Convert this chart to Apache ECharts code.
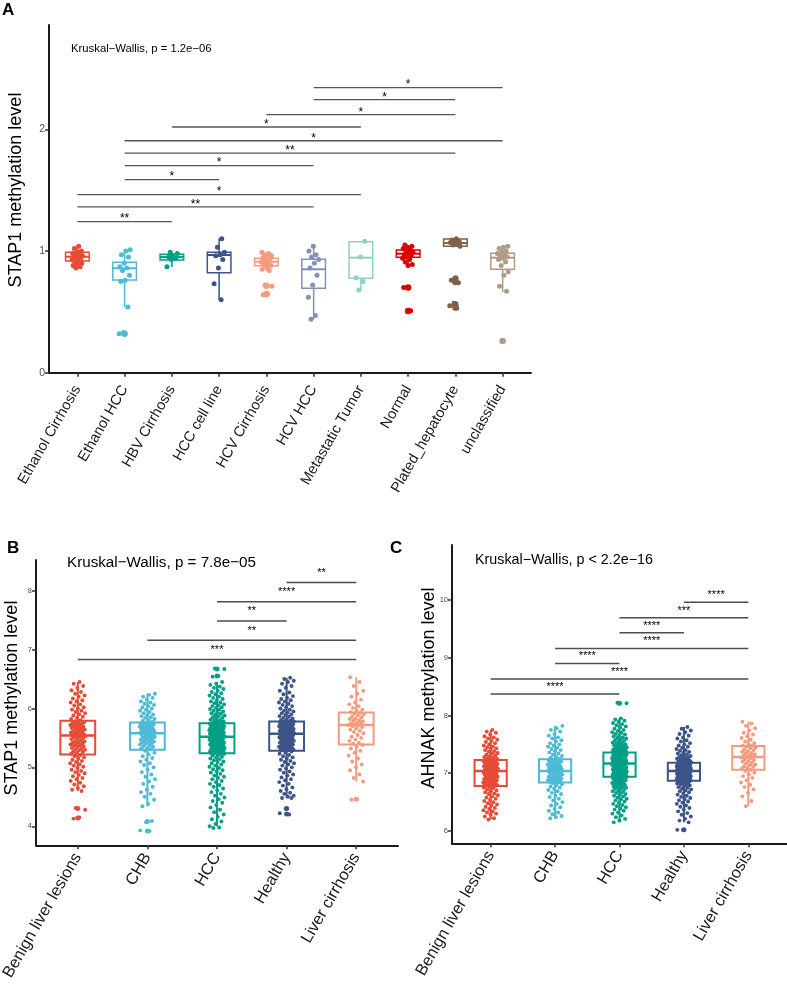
<!DOCTYPE html>
<html><head><meta charset="utf-8">
<script src="https://cdn.jsdelivr.net/npm/echarts@6/dist/echarts.min.js"></script>
<style>html,body{margin:0;padding:0;background:#fff}#c{width:787px;height:984px}</style>
</head><body><div id="c"></div><script>
// ---------- Panel A data ----------
const catsA = ['Ethanol Cirrhosis','Ethanol HCC','HBV Cirrhosis','HCC cell line','HCV Cirrhosis','HCV HCC','Metastatic Tumor','Normal','Plated_hepatocyte','unclassified'];
const colorsA = ['#E64B35','#4DBBD5','#00A087','#3C5488','#F39B7F','#8491B4','#91D1C2','#DC0000','#7E6148','#B09C85'];
// [lower whisker, Q1, median, Q3, upper whisker]
const boxA = [
  [0.86,0.918,0.953,0.99,1.04],
  [0.54,0.762,0.858,0.907,1.008],
  [0.868,0.926,0.95,0.973,0.99],
  [0.597,0.822,0.967,0.99,1.104],
  [0.836,0.879,0.912,0.94,0.99],
  [0.439,0.694,0.85,0.932,1.041],
  [0.674,0.776,0.945,1.077,1.08],
  [0.871,0.948,0.978,1.008,1.04],
  [1.04,1.04,1.065,1.099,1.1],
  [0.66,0.85,0.945,0.981,1.04]
];
const ptsA = [
  [1.04,1.02,1.0,0.99,0.98,0.97,0.96,0.96,0.95,0.95,0.94,0.94,0.93,0.92,0.91,0.9,0.89,0.88,0.87,0.86],
  [1.01,1.0,0.97,0.95,0.9,0.87,0.86,0.84,0.8,0.76,0.75,0.54,0.33,0.32],
  [0.99,0.98,0.96,0.95,0.94,0.93,0.87],
  [1.1,1.03,0.99,0.97,0.96,0.93,0.86,0.73,0.6],
  [0.99,0.98,0.97,0.96,0.95,0.94,0.93,0.92,0.91,0.9,0.89,0.88,0.87,0.85,0.84,0.72,0.71,0.65,0.64],
  [1.04,1.0,0.97,0.95,0.93,0.9,0.86,0.8,0.72,0.62,0.47,0.44],
  [1.08,0.95,0.78,0.75,0.68],
  [1.05,1.04,1.03,1.02,1.01,1.0,0.99,0.98,0.97,0.96,0.95,0.94,0.93,0.91,0.89,0.88,0.7,0.51],
  [1.1,1.09,1.08,1.08,1.07,1.06,1.05,1.04,0.78,0.76,0.74,0.57,0.55,0.53],
  [1.04,1.03,1.02,1.0,0.99,0.98,0.97,0.96,0.95,0.94,0.93,0.91,0.88,0.83,0.8,0.71,0.67,0.26]
];
const outA = [[],[0.32],[],[],[0.715,0.645],[],[],[0.70,0.507],[0.77,0.745,0.56,0.535],[0.26]];
// [group from, group to, bracket height, label]
const sigA = [
  [5,9,2.342,'*'],[5,8,2.243,'*'],[4,8,2.12,'*'],[2,6,2.019,'*'],[1,9,1.906,'*'],
  [1,8,1.805,'**'],[1,5,1.701,'*'],[1,3,1.586,'*'],[0,6,1.463,'*'],[0,5,1.362,'**'],[0,2,1.241,'**']
];
const yTicksA = [0,1,2];

// ---------- Panel B data (STAP1) ----------
const catsBC = ['Benign liver lesions','CHB','HCC','Healthy','Liver cirrhosis'];
const colorsBC = ['#E64B35','#4DBBD5','#00A087','#3C5488','#F39B7F'];
const boxB = [
  [4.6,5.22,5.54,5.79,6.45],
  [4.34,5.30,5.58,5.76,6.25],
  [4.0,5.24,5.52,5.75,6.45],
  [4.48,5.28,5.57,5.78,6.52],
  [4.76,5.39,5.72,5.93,6.53]
];
const ptsB_benign = [6.45,6.42,6.38,6.35,6.31,6.28,6.25,6.22,6.2,6.17,6.14,6.12,6.1,6.07,6.05,6.02,6.0,5.98,5.96,5.94,5.92,5.9,5.88,5.86,5.84,5.82,5.8,
  5.78,5.77,5.76,5.75,5.74,5.73,5.72,5.71,5.7,5.69,5.68,5.67,5.66,5.65,5.64,5.63,5.62,5.61,5.6,5.59,5.58,5.57,5.56,5.56,5.55,5.55,5.54,
  5.53,5.52,5.51,5.5,5.49,5.48,5.46,5.45,5.44,5.43,5.42,5.41,5.4,5.39,5.38,5.37,5.36,5.35,5.33,5.32,5.31,5.3,5.29,5.27,5.26,5.25,5.23,
  5.21,5.19,5.17,5.15,5.13,5.11,5.09,5.07,5.05,5.03,5.01,4.99,4.96,4.94,4.92,4.9,4.87,4.85,4.82,4.8,4.77,4.74,4.71,4.68,4.65,4.62,4.6,
  4.31,4.28,4.15,4.13];
const ptsB_chb = [6.25,6.23,6.2,6.18,6.15,6.12,6.1,6.08,6.06,6.04,6.02,6.0,5.98,5.96,5.94,5.92,5.9,5.88,5.87,5.85,5.84,5.82,5.8,5.79,5.77,
  5.76,5.75,5.74,5.74,5.73,5.72,5.71,5.7,5.7,5.69,5.68,5.67,5.66,5.66,5.65,5.64,5.63,5.62,5.62,5.61,5.6,5.6,5.59,5.59,5.58,
  5.57,5.56,5.55,5.54,5.53,5.52,5.51,5.5,5.49,5.48,5.47,5.46,5.45,5.44,5.43,5.42,5.41,5.4,5.39,5.37,5.36,5.35,5.33,5.32,5.31,
  5.28,5.25,5.22,5.19,5.16,5.13,5.1,5.07,5.04,5.0,4.96,4.92,4.88,4.84,4.8,4.76,4.72,4.67,4.62,4.58,4.55,4.5,4.45,4.38,4.34,
  4.09,4.07,3.93,3.92];
const ptsB_hcc = [6.68,6.67,6.55,6.54,6.45,6.42,6.4,6.37,6.35,6.33,6.3,6.28,6.26,6.24,6.22,6.2,6.18,6.16,6.14,6.12,6.1,6.09,6.07,6.05,6.04,6.02,6.01,5.99,5.98,5.96,5.95,5.93,5.92,5.91,5.89,5.88,5.87,5.85,5.84,5.83,5.81,5.8,5.79,5.78,5.76,
  5.75,5.75,5.74,5.74,5.73,5.73,5.72,5.72,5.71,5.71,5.7,5.7,5.69,5.69,5.68,5.68,5.67,5.67,5.66,5.66,5.65,5.65,5.64,5.64,5.63,5.63,5.62,5.62,5.61,5.61,5.6,5.6,5.59,5.59,5.58,5.58,5.57,5.57,5.56,5.56,5.55,5.55,5.54,5.54,5.53,5.53,5.53,5.52,5.52,5.52,
  5.51,5.51,5.5,5.5,5.49,5.49,5.48,5.48,5.47,5.47,5.46,5.45,5.45,5.44,5.43,5.43,5.42,5.41,5.41,5.4,5.39,5.39,5.38,5.37,5.37,5.36,5.35,5.35,5.34,5.33,5.33,5.32,5.31,5.31,5.3,5.3,5.29,5.29,5.28,5.28,5.27,5.27,5.26,5.26,5.25,5.25,5.25,5.24,5.24,5.24,
  5.23,5.21,5.2,5.18,5.17,5.15,5.14,5.12,5.1,5.09,5.07,5.05,5.03,5.01,4.99,4.97,4.95,4.93,4.91,4.89,4.86,4.84,4.82,4.8,4.77,4.75,4.72,4.7,4.67,4.64,4.61,4.58,4.55,4.52,4.49,4.46,4.43,4.4,4.36,4.32,4.28,4.24,4.2,4.16,4.12,4.08,4.04,4.0,3.98,3.97];
const ptsB_healthy = [6.52,6.5,6.47,6.45,6.42,6.38,6.35,6.3,6.27,6.24,6.21,6.18,6.16,6.14,6.12,6.1,6.08,6.06,6.04,6.02,6.0,5.98,5.96,5.95,5.93,5.92,5.9,5.89,5.87,5.86,5.84,5.83,5.81,5.8,5.79,
  5.78,5.78,5.77,5.77,5.76,5.76,5.75,5.75,5.74,5.73,5.73,5.72,5.71,5.71,5.7,5.69,5.69,5.68,5.67,5.67,5.66,5.65,5.65,5.64,5.63,5.63,5.62,5.62,5.61,5.61,5.6,5.6,5.59,5.59,5.58,5.58,5.58,5.57,5.57,5.57,
  5.56,5.56,5.55,5.55,5.54,5.53,5.53,5.52,5.51,5.51,5.5,5.49,5.48,5.48,5.47,5.46,5.45,5.45,5.44,5.43,5.42,5.42,5.41,5.4,5.39,5.39,5.38,5.37,5.36,5.35,5.35,5.34,5.33,5.32,5.32,5.31,5.3,5.3,5.29,5.29,
  5.27,5.25,5.23,5.21,5.19,5.17,5.15,5.13,5.11,5.09,5.07,5.05,5.03,5.0,4.98,4.96,4.93,4.91,4.88,4.86,4.83,4.8,4.78,4.75,4.72,4.69,4.66,4.63,4.6,4.57,4.55,4.52,4.5,4.48,4.48,
  4.3,4.22,4.2];
const ptsB_lc = [6.53,6.45,6.38,6.3,6.25,6.2,6.15,6.1,6.07,6.04,6.01,5.98,5.96,5.94,
  5.93,5.91,5.9,5.88,5.86,5.85,5.83,5.82,5.8,5.79,5.78,5.76,5.75,5.74,5.73,5.72,
  5.71,5.7,5.68,5.66,5.64,5.62,5.6,5.58,5.55,5.52,5.5,5.47,5.45,5.42,5.4,
  5.38,5.35,5.32,5.28,5.25,5.2,5.15,5.1,5.05,5.0,4.95,4.88,4.82,4.76,4.46,4.45];
const outB = [[4.3,4.14],[4.08,3.92],[6.67,6.55],[4.3,4.21],[4.46]];
const sigB = [[3,4,8.136,'**'],[2,4,7.81,'****'],[2,3,7.486,'**'],[1,4,7.157,'**'],[0,4,6.83,'***']];
const yTicksB = [4,5,6,7,8];

// ---------- Panel C data (AHNAK) ----------
const boxC = [
  [6.2,6.78,7.04,7.23,7.75],
  [6.22,6.84,7.04,7.24,7.82],
  [6.15,6.94,7.17,7.36,7.95],
  [6.15,6.87,7.04,7.18,7.8],
  [6.43,7.06,7.28,7.47,7.89]
];
const ptsC_benign = [7.75,7.72,7.7,7.67,7.64,7.62,7.6,7.58,7.56,7.54,7.52,7.5,7.48,7.46,7.45,7.43,7.42,7.4,7.38,7.37,7.35,7.34,7.32,7.31,7.3,7.28,7.27,7.26,7.25,7.24,
  7.23,7.22,7.22,7.21,7.2,7.2,7.19,7.18,7.18,7.17,7.16,7.16,7.15,7.14,7.14,7.13,7.12,7.12,7.11,7.1,7.1,7.09,7.09,7.08,7.08,7.07,7.07,7.06,7.06,7.05,7.05,7.05,7.04,7.04,7.04,
  7.03,7.02,7.01,7.0,6.99,6.99,6.98,6.97,6.96,6.95,6.94,6.94,6.93,6.92,6.91,6.9,6.89,6.89,6.88,6.87,6.86,6.85,6.84,6.84,6.83,6.82,6.82,6.81,6.8,6.8,6.79,6.79,6.78,6.78,6.78,
  6.77,6.75,6.74,6.72,6.7,6.69,6.67,6.65,6.64,6.62,6.6,6.58,6.56,6.54,6.52,6.5,6.48,6.46,6.44,6.42,6.4,6.38,6.36,6.34,6.32,6.3,6.28,6.25,6.22,6.2];
const ptsC_chb = [7.82,7.78,7.75,7.72,7.68,7.65,7.62,7.6,7.57,7.55,7.52,7.5,7.48,7.46,7.44,7.42,7.4,7.38,7.36,7.34,7.32,7.3,7.28,7.27,7.25,
  7.24,7.23,7.22,7.21,7.2,7.19,7.18,7.17,7.16,7.15,7.14,7.13,7.12,7.11,7.1,7.1,7.09,7.08,7.08,7.07,7.06,7.06,7.05,7.05,7.04,
  7.03,7.02,7.01,7.0,6.99,6.98,6.97,6.96,6.95,6.94,6.94,6.93,6.92,6.91,6.9,6.9,6.89,6.88,6.88,6.87,6.86,6.86,6.85,6.85,6.84,
  6.83,6.81,6.79,6.77,6.75,6.73,6.71,6.69,6.66,6.64,6.61,6.59,6.56,6.53,6.5,6.47,6.44,6.41,6.38,6.35,6.32,6.29,6.26,6.24,6.22];
const ptsC_hcc = [8.22,8.21,7.95,7.93,7.91,7.89,7.87,7.85,7.83,7.81,7.79,7.77,7.75,7.73,7.71,7.7,7.68,7.67,7.65,7.64,7.62,7.61,7.6,7.58,7.57,7.56,7.54,7.53,7.52,7.51,7.5,7.49,7.48,7.47,7.46,7.45,7.44,7.43,7.42,7.41,7.41,7.4,7.4,7.39,7.39,7.38,7.38,7.37,7.37,7.36,
  7.36,7.35,7.35,7.34,7.34,7.33,7.33,7.32,7.32,7.31,7.31,7.3,7.3,7.29,7.29,7.28,7.28,7.27,7.27,7.26,7.26,7.25,7.25,7.24,7.24,7.23,7.23,7.22,7.22,7.22,7.21,7.21,7.2,7.2,7.2,7.19,7.19,7.19,7.18,7.18,7.18,7.18,7.17,7.17,7.17,7.17,7.17,7.17,
  7.16,7.16,7.15,7.15,7.14,7.14,7.13,7.13,7.12,7.12,7.11,7.11,7.1,7.1,7.09,7.09,7.08,7.08,7.07,7.07,7.06,7.06,7.05,7.05,7.04,7.04,7.03,7.03,7.02,7.02,7.01,7.01,7.0,7.0,6.99,6.99,6.98,6.98,6.97,6.97,6.96,6.96,6.96,6.95,6.95,6.95,6.94,6.94,6.94,6.94,
  6.93,6.92,6.91,6.9,6.89,6.88,6.87,6.86,6.85,6.84,6.83,6.82,6.81,6.8,6.79,6.78,6.77,6.76,6.75,6.74,6.73,6.71,6.7,6.69,6.67,6.66,6.64,6.63,6.61,6.6,6.58,6.56,6.55,6.53,6.51,6.49,6.47,6.45,6.43,6.41,6.39,6.37,6.35,6.32,6.3,6.27,6.24,6.21,6.18,6.15];
const ptsC_healthy = [7.8,7.77,7.74,7.71,7.68,7.65,7.62,7.6,7.57,7.55,7.52,7.5,7.48,7.46,7.44,7.42,7.4,7.39,7.37,7.36,7.34,7.33,7.31,7.3,7.29,7.28,7.27,7.26,7.25,7.24,7.23,7.22,7.21,7.2,7.2,7.19,7.19,
  7.18,7.18,7.17,7.17,7.16,7.16,7.15,7.15,7.14,7.14,7.13,7.13,7.12,7.12,7.11,7.11,7.1,7.1,7.09,7.09,7.09,7.08,7.08,7.08,7.07,7.07,7.07,7.06,7.06,7.06,7.05,7.05,7.05,7.05,7.04,7.04,7.04,7.04,
  7.03,7.03,7.02,7.02,7.01,7.01,7.0,7.0,6.99,6.99,6.98,6.98,6.97,6.97,6.96,6.96,6.95,6.95,6.94,6.94,6.93,6.93,6.92,6.92,6.91,6.91,6.9,6.9,6.9,6.89,6.89,6.89,6.88,6.88,6.88,6.87,6.87,6.87,
  6.86,6.85,6.84,6.83,6.82,6.81,6.8,6.79,6.77,6.76,6.75,6.73,6.72,6.7,6.69,6.67,6.65,6.63,6.61,6.59,6.57,6.55,6.53,6.51,6.49,6.47,6.44,6.42,6.4,6.37,6.34,6.31,6.28,6.25,6.21,6.18,6.15,
  6.02,6.02];
const ptsC_lc = [7.89,7.86,7.82,7.78,7.74,7.7,7.67,7.64,7.61,7.58,7.55,7.52,7.5,7.48,
  7.47,7.46,7.44,7.43,7.41,7.4,7.38,7.37,7.35,7.34,7.33,7.31,7.3,7.29,7.28,
  7.27,7.26,7.24,7.23,7.21,7.2,7.18,7.17,7.15,7.14,7.12,7.11,7.09,7.08,7.06,
  7.04,7.01,6.98,6.95,6.92,6.88,6.84,6.8,6.76,6.72,6.66,6.6,6.52,6.43];
const outC = [[],[],[8.21],[6.02],[]];
const sigC = [[3,4,9.96,'****'],[2,4,9.69,'***'],[2,3,9.43,'****'],[1,4,9.16,'****'],[1,2,8.90,'****'],[0,4,8.63,'****'],[0,2,8.37,'****']];
const yTicksC = [6,7,8,9,10];

// ---------- helpers ----------
const FONT = '"Liberation Sans", Arial, Helvetica, sans-serif';
function jit(i, g, w) { const f = ((i + 1) * 0.6180339887 + g * 0.371) % 1; return (f * 2 - 1) * w; }
function jitterData(groups, w) {
  const out = [];
  groups.forEach((arr, g) => arr.forEach((v, i) => out.push([g + jit(i, g, w), v, g])));
  return out;
}
function outlierData(groups) {
  const out = [];
  groups.forEach((arr, g) => arr.forEach(v => out.push([g, v, g])));
  return out;
}
function boxSeries(idx, boxes, colors, lw, medW) {
  return {
    type: 'custom', xAxisIndex: idx, yAxisIndex: idx, z: 2, silent: true,
    data: boxes.map((b, g) => [g].concat(b)),
    encode: { x: 0, y: [1, 2, 3, 4, 5] },
    renderItem: function (params, api) {
      const g = api.value(0);
      const c = colors[params.dataIndex];
      const pMin = api.coord([g, api.value(1)]);
      const pQ1 = api.coord([g, api.value(2)]);
      const pMed = api.coord([g, api.value(3)]);
      const pQ3 = api.coord([g, api.value(4)]);
      const pMax = api.coord([g, api.value(5)]);
      const hw = api.size([1, 0])[0] * 0.25;
      const cx = pMed[0];
      return { type: 'group', children: [
        { type: 'line', shape: { x1: cx, y1: pMax[1], x2: cx, y2: pQ3[1] }, style: { stroke: c, lineWidth: lw } },
        { type: 'line', shape: { x1: cx, y1: pQ1[1], x2: cx, y2: pMin[1] }, style: { stroke: c, lineWidth: lw } },
        { type: 'rect', shape: { x: cx - hw, y: pQ3[1], width: hw * 2, height: pQ1[1] - pQ3[1] }, style: { fill: '#fff', stroke: c, lineWidth: lw } },
        { type: 'line', shape: { x1: cx - hw, y1: pMed[1], x2: cx + hw, y2: pMed[1] }, style: { stroke: c, lineWidth: medW } }
      ]};
    }
  };
}
function sigSeries(idx, sig, fs, dy, lc, lw) {
  return {
    type: 'custom', xAxisIndex: idx, yAxisIndex: idx, z: 5, silent: true,
    data: sig.map(s => [s[0], s[1], s[2]]),
    encode: { x: [0, 1], y: 2 },
    renderItem: function (params, api) {
      const a = api.coord([api.value(0), api.value(2)]);
      const b = api.coord([api.value(1), api.value(2)]);
      return { type: 'group', children: [
        { type: 'line', shape: { x1: a[0], y1: a[1], x2: b[0], y2: b[1] }, style: { stroke: lc, lineWidth: lw } },
        { type: 'text', x: (a[0] + b[0]) / 2, y: a[1] - dy,
          style: { text: sig[params.dataIndex][3], fill: '#000', font: fs + 'px ' + FONT, align: 'center', verticalAlign: 'middle' } }
      ]};
    }
  };
}
function scatterSeries(idx, data, size, colors, z) {
  return { type: 'scatter', xAxisIndex: idx, yAxisIndex: idx, z: z, silent: true, data: data, symbolSize: size,
    itemStyle: { color: p => colors[p.value[2]], opacity: 1 } };
}
function xAxisDef(idx, cats, fs, margin) {
  const vals = cats.map((c, i) => i);
  return {
    gridIndex: idx, type: 'value', min: -0.6, max: cats.length - 0.4,
    axisLine: { show: true, onZero: false, lineStyle: { color: '#1a1a1a', width: 2 } },
    axisTick: { show: true, customValues: vals, length: 4, lineStyle: { color: '#333', width: 1.5 } },
    axisLabel: { customValues: vals, rotate: 60, margin: margin, fontSize: fs, fontFamily: FONT, color: '#1a1a1a',
      formatter: v => (Number.isInteger(v) ? cats[v] : '') },
    splitLine: { show: false }
  };
}
function yAxisDef(idx, min, max, ticks, fs) {
  return {
    gridIndex: idx, type: 'value', min: min, max: max,
    axisLine: { show: true, onZero: false, lineStyle: { color: '#1a1a1a', width: 2 } },
    axisTick: { show: true, customValues: ticks, length: 4, lineStyle: { color: '#333', width: 1.5 } },
    axisLabel: { customValues: ticks, margin: 4, fontSize: fs, fontFamily: FONT, color: '#4d4d4d',
      formatter: v => (ticks.indexOf(v) >= 0 ? String(v) : '') },
    splitLine: { show: false }
  };
}
function txt(x, y, text, fs, opts) {
  return Object.assign({ type: 'text', x: x, y: y, silent: true,
    style: Object.assign({ text: text, font: fs + 'px ' + FONT, fill: '#000', align: 'left', verticalAlign: 'middle' }, (opts && opts.style) || {}) },
    (opts && opts.el) || {});
}

const chart = echarts.init(document.getElementById('c'), null, { renderer: 'canvas' });
const option = {
  backgroundColor: '#fff',
  animation: false,
  grid: [
    { left: 49, top: 25, width: 482, height: 347.7, containLabel: false, outerBoundsMode: 'none' },
    { left: 36, top: 560, width: 362, height: 285.3, containLabel: false, outerBoundsMode: 'none' },
    { left: 452, top: 545, width: 335, height: 298.3, containLabel: false, outerBoundsMode: 'none' }
  ],
  xAxis: [ xAxisDef(0, catsA, 14.6, 14), xAxisDef(1, catsBC, 16.4, 9), xAxisDef(2, catsBC, 16.4, 9) ],
  yAxis: [ yAxisDef(0, 0, 2.857, yTicksA, 10.5), yAxisDef(1, 3.677, 8.52, yTicksB, 7.5), yAxisDef(2, 5.787, 10.95, yTicksC, 7.5) ],
  series: [
    boxSeries(0, boxA, colorsA, 1.5, 2),
    scatterSeries(0, outlierData(outA), 6.5, colorsA, 3),
    scatterSeries(0, jitterData(ptsA, 0.12), 5, colorsA, 4),
    sigSeries(0, sigA, 12, 2.5, '#555', 1.3),

    boxSeries(1, boxB, colorsBC, 2, 2.5),
    scatterSeries(1, outlierData(outB), 5, colorsBC, 3),
    scatterSeries(1, jitterData([ptsB_benign, ptsB_chb, ptsB_hcc, ptsB_healthy, ptsB_lc], 0.11), 3.9, colorsBC, 4),
    sigSeries(1, sigB, 11, 9.5, '#4d4d4d', 1.5),

    boxSeries(2, boxC, colorsBC, 2, 2.5),
    scatterSeries(2, outlierData(outC), 5, colorsBC, 3),
    scatterSeries(2, jitterData([ptsC_benign, ptsC_chb, ptsC_hcc, ptsC_healthy, ptsC_lc], 0.115), 3.9, colorsBC, 4),
    sigSeries(2, sigC, 11, 7, '#4d4d4d', 1.5)
  ],
  graphic: [
    txt(2, 10, 'A', 17, { style: { font: 'bold 17px ' + FONT } }),
    txt(71, 49, 'Kruskal\u2212Wallis, p = 1.2e\u221206', 11.3),
    txt(16.5, 190, 'STAP1 methylation level', 18, { style: { align: 'center' }, el: { rotation: Math.PI / 2 } }),
    txt(7, 548, 'B', 17, { style: { font: 'bold 17px ' + FONT } }),
    txt(67, 563, 'Kruskal\u2212Wallis, p = 7.8e\u221205', 15.2),
    txt(12.5, 698, 'STAP1 methylation level', 18, { style: { align: 'center' }, el: { rotation: Math.PI / 2 } }),
    txt(390, 548, 'C', 17, { style: { font: 'bold 17px ' + FONT } }),
    txt(475, 560, 'Kruskal\u2212Wallis, p < 2.2e\u221216', 14.3),
    txt(429, 688, 'AHNAK methylation level', 18, { style: { align: 'center' }, el: { rotation: Math.PI / 2 } })
  ]
};
chart.setOption(option);
</script></body></html>
